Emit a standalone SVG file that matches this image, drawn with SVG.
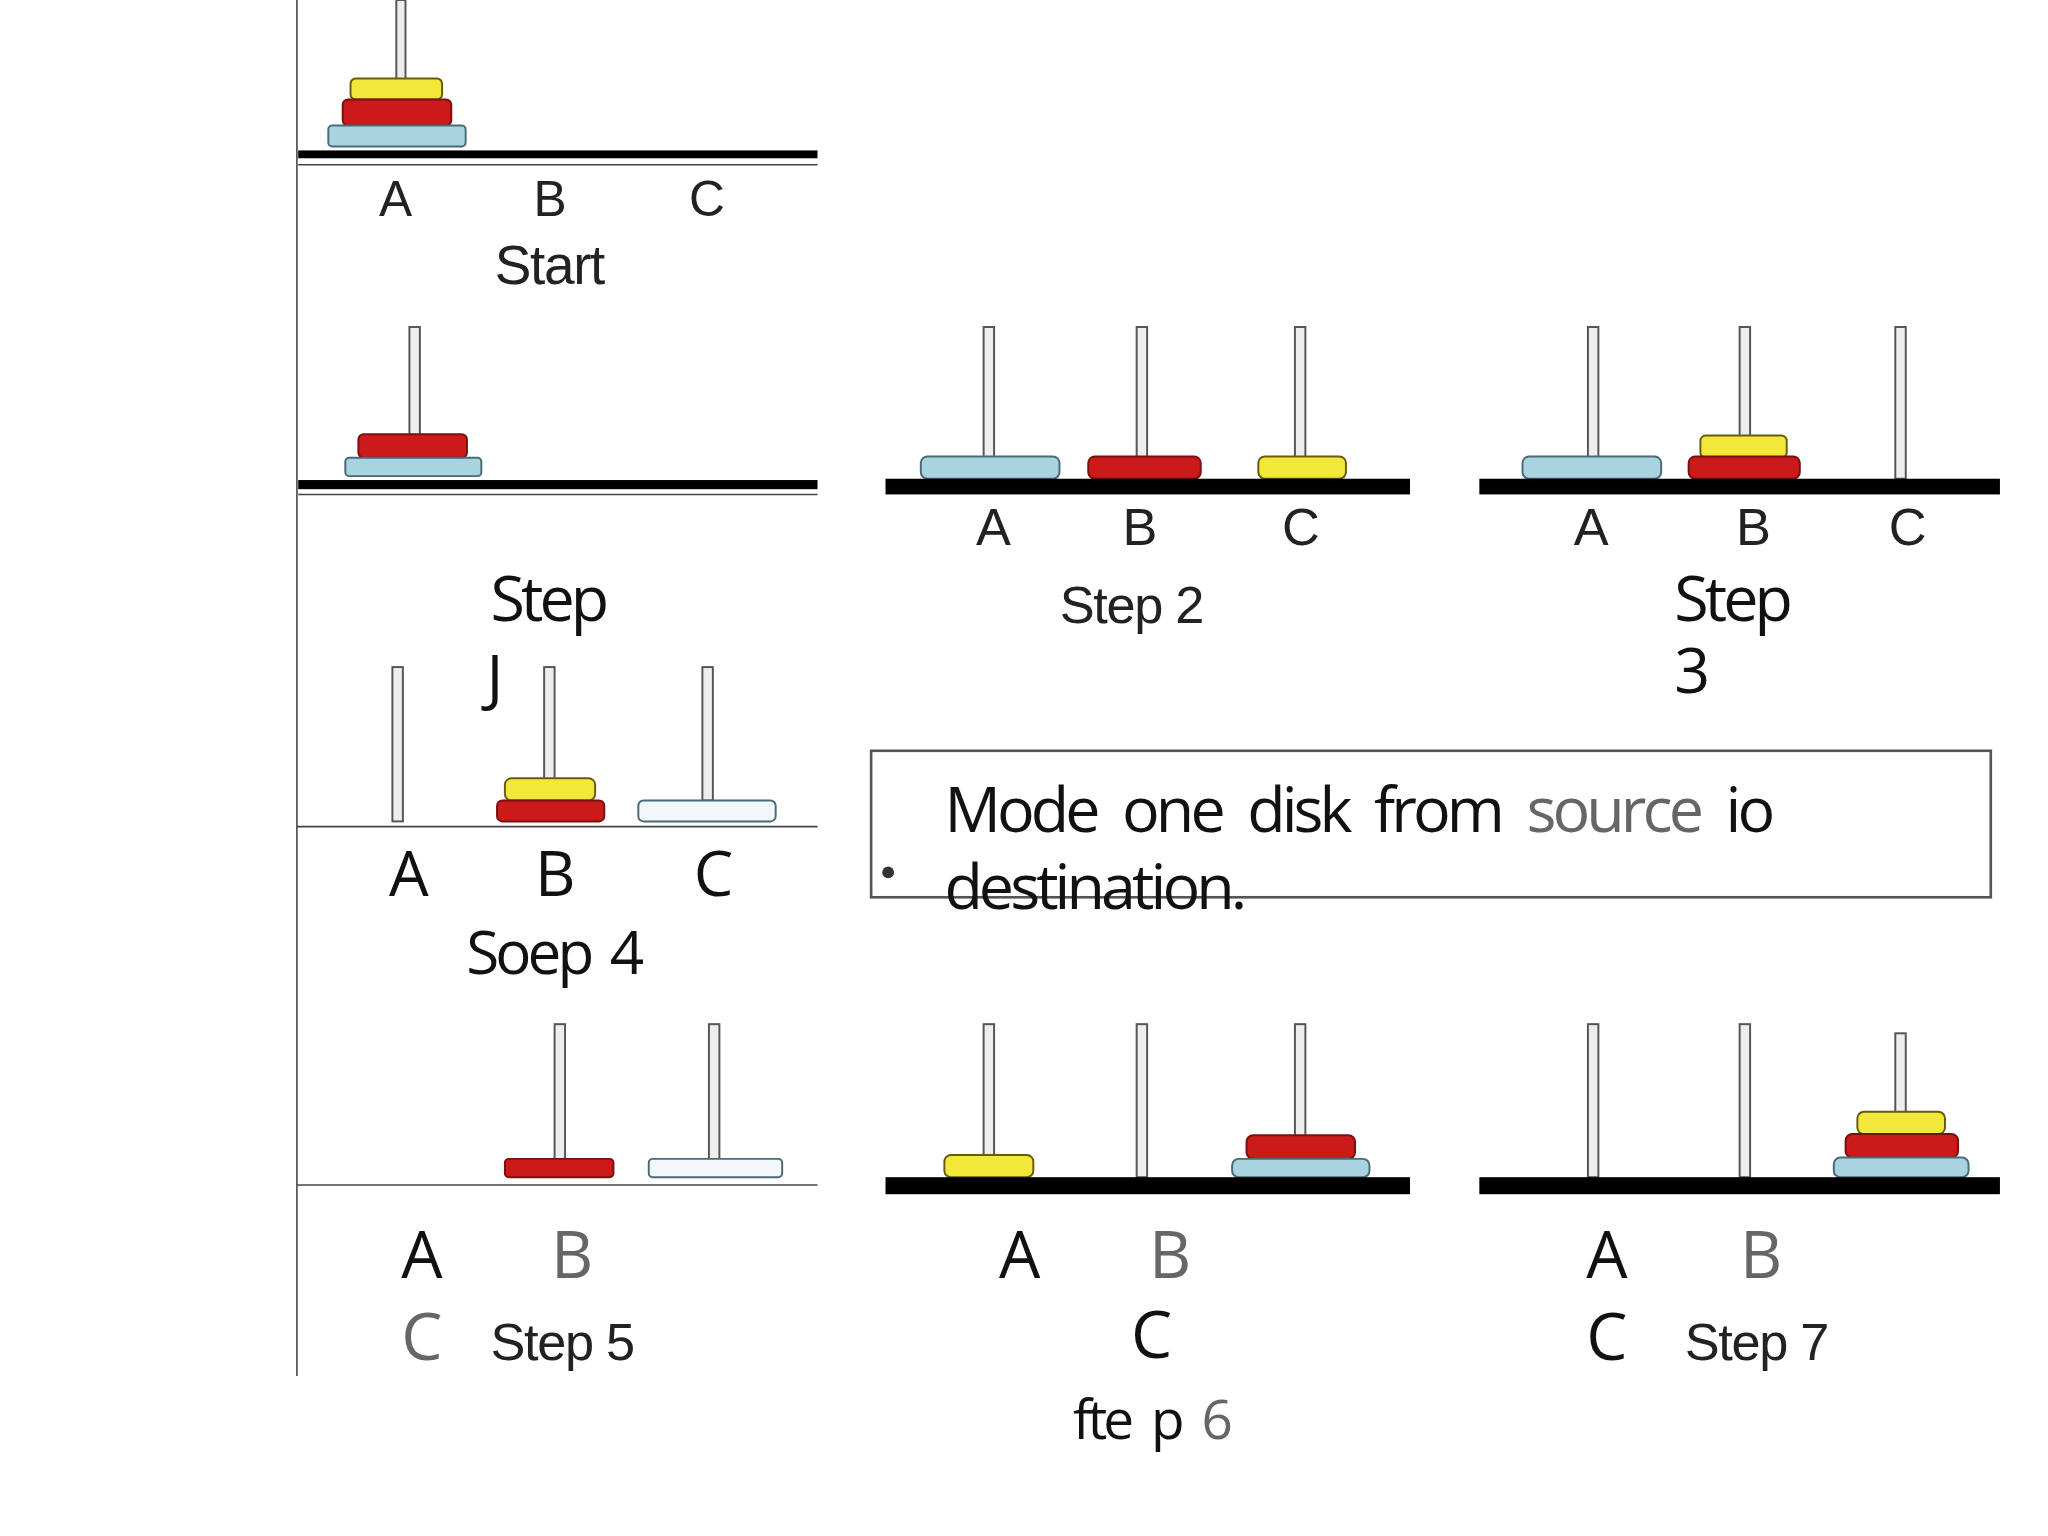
<svg xmlns="http://www.w3.org/2000/svg" width="2048" height="1536" viewBox="0 0 2048 1536">
<style>
.peg{fill:#eee;stroke:#555;stroke-width:1.5}
.y{fill:#f2e83a;stroke:#6a5a10;stroke-width:1.5}
.r{fill:#cc1a1a;stroke:#7a1010;stroke-width:1.5}
.b{fill:#a9d3df;stroke:#4a6a78;stroke-width:1.5}
.w{fill:#f2f8fa;stroke:#4a6a78;stroke-width:1.5}
.base{fill:#000}
.thin{stroke:#444;stroke-width:1.2}
.ls{font-family:"Liberation Sans",Arial,sans-serif;fill:#222;letter-spacing:-1px}
.os{font-family:"Open Sans","DejaVu Sans",sans-serif;fill:#111;letter-spacing:-3px}
.g{fill:#666}
</style>
<rect width="2048" height="1536" fill="#fff"/>
<g transform="scale(1.308)">
<line x1="227" y1="0" x2="227" y2="1052" class="thin"/>
<g id="start">
<rect class="peg" x="303" y="0" width="7" height="62"/>
<rect class="y" x="268" y="60" width="70" height="16" rx="4"/>
<rect class="r" x="262" y="76" width="83" height="20" rx="4"/>
<rect class="b" x="251" y="96" width="105" height="16" rx="3"/>
<rect class="base" x="228" y="115" width="397" height="6"/>
<line x1="228" y1="126" x2="625" y2="126" class="thin"/>
<text class="ls" x="302" y="165" font-size="38" text-anchor="middle">A</text>
<text class="ls" x="420" y="165" font-size="38" text-anchor="middle">B</text>
<text class="ls" x="540" y="165" font-size="38" text-anchor="middle">C</text>
<text class="ls" x="420" y="217" font-size="42" text-anchor="middle">Start</text>
</g>
<g id="step1">
<rect class="peg" x="313" y="250" width="8" height="84"/>
<rect class="r" x="274" y="332" width="83" height="18" rx="4"/>
<rect class="b" x="264" y="350" width="104" height="14" rx="3"/>
<rect class="base" x="228" y="367" width="397" height="7"/>
<line x1="228" y1="378" x2="625" y2="378" class="thin"/>
<text class="os" x="375" y="475" font-size="48" letter-spacing="-5">Step</text>
<text class="os" x="372" y="535" font-size="48">J</text>
</g>
<g id="step2">
<rect class="peg" x="752" y="250" width="8" height="100"/>
<rect class="peg" x="869" y="250" width="8" height="100"/>
<rect class="peg" x="990" y="250" width="8" height="100"/>
<rect class="b" x="704" y="349" width="106" height="17" rx="5"/>
<rect class="r" x="832" y="349" width="86" height="17" rx="5"/>
<rect class="y" x="962" y="349" width="67" height="17" rx="5"/>
<rect class="base" x="677" y="366" width="401" height="12"/>
<text class="ls" x="759" y="417" font-size="40" text-anchor="middle">A</text>
<text class="ls" x="871" y="417" font-size="40" text-anchor="middle">B</text>
<text class="ls" x="994" y="417" font-size="40" text-anchor="middle">C</text>
<text class="ls" x="865" y="476" font-size="40" text-anchor="middle">Step 2</text>
</g>
<g id="step3">
<rect class="peg" x="1214" y="250" width="8" height="100"/>
<rect class="peg" x="1330" y="250" width="8" height="84"/>
<rect class="peg" x="1449" y="250" width="8" height="116"/>
<rect class="b" x="1164" y="349" width="106" height="17" rx="5"/>
<rect class="y" x="1300" y="333" width="66" height="17" rx="4"/>
<rect class="r" x="1291" y="349" width="85" height="17" rx="5"/>
<rect class="base" x="1131" y="366" width="398" height="12"/>
<text class="ls" x="1216" y="417" font-size="40" text-anchor="middle">A</text>
<text class="ls" x="1340" y="417" font-size="40" text-anchor="middle">B</text>
<text class="ls" x="1458" y="417" font-size="40" text-anchor="middle">C</text>
<text class="os" x="1280" y="475" font-size="48" letter-spacing="-5">Step</text>
<text class="os" x="1280" y="530" font-size="48">3</text>
</g>
<g id="step4">
<rect class="peg" x="300" y="510" width="8" height="118"/>
<rect class="peg" x="416" y="510" width="8" height="86"/>
<rect class="peg" x="537" y="510" width="8" height="102"/>
<rect class="y" x="386" y="595" width="69" height="17" rx="5"/>
<rect class="r" x="380" y="612" width="82" height="16" rx="4"/>
<rect class="w" x="488" y="612" width="105" height="16" rx="4"/>
<line x1="227" y1="632" x2="625" y2="632" class="thin"/>
<text class="os" x="311" y="685" font-size="48" text-anchor="middle">A</text>
<text class="os" x="423" y="685" font-size="48" text-anchor="middle">B</text>
<text class="os" x="544" y="685" font-size="48" text-anchor="middle">C</text>
<text class="os" x="423" y="745" font-size="46" text-anchor="middle" letter-spacing="-4" word-spacing="6">Soep 4</text>
</g>
<g id="box">
<rect x="666" y="574" width="856" height="112" fill="none" stroke="#555" stroke-width="2"/>
<circle cx="679" cy="667" r="4.5" fill="#333"/>
<text class="os" x="722" y="636" font-size="48" letter-spacing="-4" word-spacing="10">Mode one disk from <tspan class="g">source</tspan> io</text>
<text class="os" x="722" y="695" font-size="48" letter-spacing="-4">destination.</text>
</g>
<g id="step5">
<rect class="peg" x="424" y="783" width="8" height="104"/>
<rect class="peg" x="542" y="783" width="8" height="104"/>
<rect class="r" x="386" y="886" width="83" height="14" rx="3"/>
<rect class="w" x="496" y="886" width="102" height="14" rx="3"/>
<line x1="227" y1="906" x2="625" y2="906" class="thin"/>
<text class="os" x="321" y="977" font-size="50" text-anchor="middle">A</text>
<text class="os g" x="436" y="977" font-size="50" text-anchor="middle">B</text>
<text class="os g" x="321" y="1040" font-size="50" text-anchor="middle">C</text>
<text class="ls" x="375" y="1040" font-size="40" fill="#333">Step  5</text>
</g>
<g id="step6">
<rect class="peg" x="752" y="783" width="8" height="102"/>
<rect class="peg" x="869" y="783" width="8" height="117"/>
<rect class="peg" x="990" y="783" width="8" height="86"/>
<rect class="y" x="722" y="883" width="68" height="17" rx="5"/>
<rect class="r" x="953" y="868" width="83" height="18" rx="5"/>
<rect class="b" x="942" y="886" width="105" height="14" rx="5"/>
<rect class="base" x="677" y="900" width="401" height="13"/>
<text class="os" x="778" y="977" font-size="50" text-anchor="middle" fill="#888">A</text>
<text class="os g" x="893" y="977" font-size="50" text-anchor="middle">B</text>
<text class="os" x="879" y="1038" font-size="50" text-anchor="middle">C</text>
<text class="os" x="880" y="1100" font-size="42" text-anchor="middle" letter-spacing="-1" word-spacing="8">fte p <tspan class="g">6</tspan></text>
</g>
<g id="step7">
<rect class="peg" x="1214" y="783" width="8" height="117"/>
<rect class="peg" x="1330" y="783" width="8" height="117"/>
<rect class="peg" x="1449" y="790" width="8" height="62"/>
<rect class="y" x="1420" y="850" width="67" height="17" rx="5"/>
<rect class="r" x="1411" y="867" width="86" height="18" rx="5"/>
<rect class="b" x="1402" y="885" width="103" height="15" rx="5"/>
<rect class="base" x="1131" y="900" width="398" height="13"/>
<text class="os" x="1227" y="977" font-size="50" text-anchor="middle">A</text>
<text class="os g" x="1345" y="977" font-size="50" text-anchor="middle">B</text>
<text class="os" x="1227" y="1040" font-size="50" text-anchor="middle">C</text>
<text class="ls" x="1288" y="1040" font-size="40" fill="#333">Step 7</text>
</g>
</g>
</svg>
